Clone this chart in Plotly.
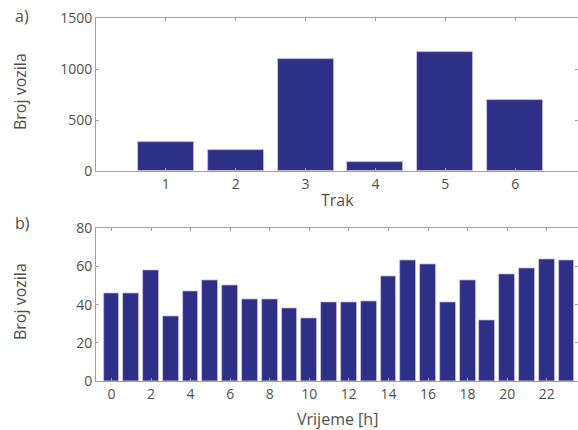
import plotly.graph_objects as go

# Data
lanes = [1, 2, 3, 4, 5, 6]
lane_counts = [282, 204, 1100, 84, 1168, 692]
hours = list(range(24))
hour_counts = [46, 46, 58, 34, 47, 53, 50, 43, 43, 38, 33, 41, 41, 42, 55, 63, 61, 41, 53, 32, 56, 59, 64, 63]
hour_ticks = list(range(0, 24, 2))

BAR = "#2e3088"
TXT = "#4f4f4f"
AX = "#a0a0a0"
FONT = "Open Sans"

W, H = 578, 430
L, R, T, B = 96, 0, 18, 49
PW, PH = W - L - R, H - T - B

def px(x):
    return (x - L) / PW

def py(y):
    return (H - B - y) / PH

fig = go.Figure()
fig.add_trace(go.Bar(x=lanes, y=lane_counts, width=0.8, marker=dict(color=BAR, line=dict(color="#c8c8d8", width=0.8)),
                     xaxis="x", yaxis="y", showlegend=False))
fig.add_trace(go.Bar(x=hours, y=hour_counts, width=0.8, marker=dict(color=BAR, line=dict(color="#c8c8d8", width=0.8)),
                     xaxis="x2", yaxis="y2", showlegend=False))

axis_common = dict(showgrid=False, zeroline=False, showline=True, linecolor=AX, linewidth=1,
                   ticks="inside", ticklen=3, tickcolor=AX, mirror="ticks",
                   tickfont=dict(family=FONT, size=14, color=TXT))

top_bottom = py(171)
bot_top = py(228.3)

fig.update_layout(
    width=W, height=H,
    margin=dict(l=L, r=R, t=T, b=B, pad=0),
    paper_bgcolor="white", plot_bgcolor="white",
    font=dict(family=FONT, color=TXT),
    bargap=0,
    xaxis=dict(domain=[0, 1], anchor="y", range=[0, 6.9], tickvals=lanes, **axis_common),
    yaxis=dict(domain=[top_bottom, 1], anchor="x", range=[0, 1500], tickvals=[0, 500, 1000, 1500], **axis_common),
    xaxis2=dict(domain=[0, 1], anchor="y2", range=[-0.78, 23.58], tickvals=hour_ticks, **axis_common),
    yaxis2=dict(domain=[0, bot_top], anchor="x2", range=[0, 80], tickvals=[0, 20, 40, 60, 80], **axis_common),
)

ann = dict(xref="paper", yref="paper", showarrow=False, font=dict(family=FONT, size=16, color=TXT))
fig.add_annotation(text="a)", x=px(22), y=py(16), xanchor="center", yanchor="middle", **ann)
fig.add_annotation(text="b)", x=px(22), y=py(223), xanchor="center", yanchor="middle", **ann)
fig.add_annotation(text="Broj vozila", x=px(20), y=py(92), textangle=-90, xanchor="center", yanchor="middle", **ann)
fig.add_annotation(text="Broj vozila", x=px(20), y=py(302), textangle=-90, xanchor="center", yanchor="middle", **ann)
fig.add_annotation(text="Trak", x=0.5, y=py(200), xanchor="center", yanchor="middle", **ann)
fig.add_annotation(text="Vrijeme [h]", x=0.5, y=py(419), xanchor="center", yanchor="middle", **ann)

fig.write_html("out.html")
